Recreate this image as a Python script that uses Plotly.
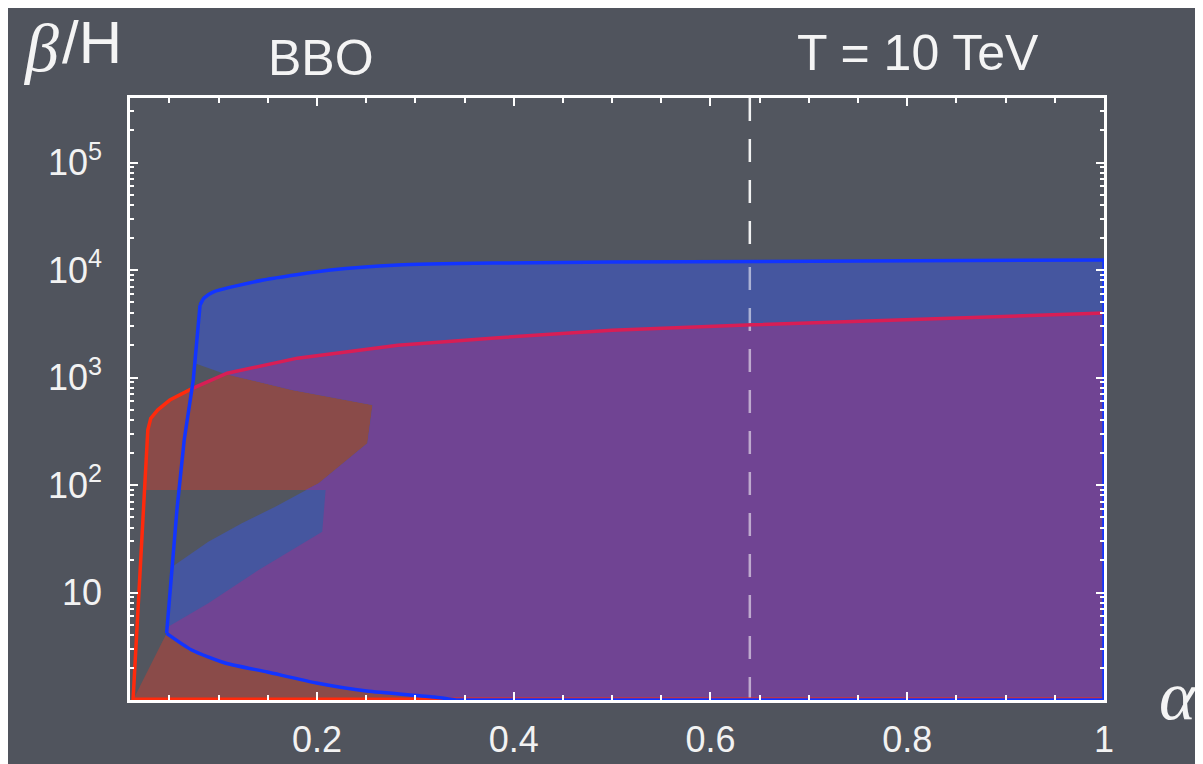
import numpy as np
import plotly.graph_objects as go

# ---------------- data (alpha, beta/H) ----------------
# red sensitivity curve (bottom -> right end)
RED_A = [0.0131, 0.0184, 0.0236, 0.0260, 0.0281, 0.0311, 0.0383, 0.0505, 0.0689,
         0.1087, 0.1802, 0.2823, 0.3844, 0.4998, 0.6426, 1.0]
RED_B = [1.0, 8.5, 58.5, 170, 324, 417, 501, 617, 759,
         1096, 1514, 1995, 2344, 2754, 3090, 3981]

# blue curve: upper branch (top-left corner -> right end)
BLUE_TOP_A = [0.0812, 0.0853, 0.0944, 0.1455, 0.2139, 0.2823, 0.3844, 0.4998, 1.0]
BLUE_TOP_B = [4721, 5495, 6237, 8072, 10000, 11143, 11614, 11858, 12388]
# blue curve: steep left branch (corner -> lower vertex)
BLUE_LEFT_A = [0.0812, 0.0743, 0.0651, 0.0577, 0.0526, 0.0472]
BLUE_LEFT_B = [4721, 948, 262, 58.5, 16.2, 4.17]
# blue curve: lower branch (vertex -> bottom)
BLUE_LOW_A = [0.0472, 0.0727, 0.1067, 0.1496, 0.1996, 0.2506, 0.319, 0.3415]
BLUE_LOW_B = [4.17, 2.92, 2.21, 1.82, 1.44, 1.21, 1.067, 1.0]

# hole of the red region (lower-left pocket)
STRIP_LOW_A = [0.0472, 0.0488, 0.0896, 0.1407, 0.2054]
STRIP_LOW_B = [4.17, 4.81, 7.94, 16.2, 36.8]
POCKET_TOP_A = [0.2088]
POCKET_TOP_B = [89.7]
# hole of the blue region
STRIP_UP_A = [0.0529, 0.0896, 0.1237, 0.1577, 0.1883]
STRIP_UP_B = [17.4, 29.7, 44.1, 62.8, 89.7]
HOLE_RIGHT_A = [0.1883, 0.2019, 0.2513, 0.2565]
HOLE_RIGHT_B = [89.7, 103.8, 244, 555]
HOLE_TOP_A = [0.2565, 0.1748, 0.1067, 0.0758]
HOLE_TOP_B = [555, 766, 1079, 1355]

ALPHA_MARK = 0.64
X_RANGE = [0.01, 1.0]
Y_RANGE_LOG = [0.0, 5.6]
Y_TICKS = [10, 100, 1e3, 1e4, 1e5]
Y_TICKTEXT = ["10", "10<sup>2</sup>", "10<sup>3</sup>", "10<sup>4</sup>", "10<sup>5</sup>"]
X_TICKS = [0.2, 0.4, 0.6, 0.8, 1.0]
X_TICKTEXT = ["0.2", "0.4", "0.6", "0.8", "1"]

# ---------------- geometry helpers (work in alpha, log10 space) -------------
def pts(a, b):
    return [(float(x), float(np.log10(y))) for x, y in zip(a, b)]

red = pts(RED_A, RED_B)
btop = pts(BLUE_TOP_A, BLUE_TOP_B)
bleft = pts(BLUE_LEFT_A, BLUE_LEFT_B)
blow = pts(BLUE_LOW_A, BLUE_LOW_B)
slow = pts(STRIP_LOW_A, STRIP_LOW_B)
ptop = pts(POCKET_TOP_A, POCKET_TOP_B)
sup = pts(STRIP_UP_A, STRIP_UP_B)
hright = pts(HOLE_RIGHT_A, HOLE_RIGHT_B)
htop = pts(HOLE_TOP_A, HOLE_TOP_B)


def intersect(P, Q):
    for i in range(len(P) - 1):
        p = np.array(P[i]); r = np.array(P[i + 1]) - p
        for j in range(len(Q) - 1):
            q = np.array(Q[j]); s = np.array(Q[j + 1]) - q
            den = r[0] * s[1] - r[1] * s[0]
            if abs(den) < 1e-14:
                continue
            t = ((q[0] - p[0]) * s[1] - (q[1] - p[1]) * s[0]) / den
            u = ((q[0] - p[0]) * r[1] - (q[1] - p[1]) * r[0]) / den
            if 0 <= t <= 1 and 0 <= u <= 1:
                v = p + t * r
                return (float(v[0]), float(v[1])), i, j
    return None


X1, ix1, _ = intersect(red, bleft)       # red curve meets blue left branch
Y1, iy1, jy1 = intersect(red, htop)      # red curve meets top of blue hole

L_pocket = ptop[0][1]
red_L = [p[1] for p in red]
red_A = [p[0] for p in red]
a_red_pocket = float(np.interp(L_pocket, red_L, red_A))
bottom = Y_RANGE_LOG[0]

# red region (minus its pocket)
red_poly = [red[0]] + slow + ptop + [(a_red_pocket, L_pocket)] \
    + [p for p in red if p[1] > L_pocket] + [(red[-1][0], bottom)]
# blue region (minus its hole)
blue_poly = btop + [(btop[-1][0], bottom)] + blow[::-1] \
    + [p for p in bleft[::-1] if sup[0][1] > p[1] > blow[0][1]] \
    + sup + hright[1:] + htop[1:] \
    + [p for p in bleft[::-1] if p[1] > htop[-1][1]]
# overlap of both
purple_poly = [Y1] + red[iy1 + 1:] + [(red[-1][0], bottom)] + blow[::-1] \
    + slow[1:] + ptop + hright + htop[1:jy1 + 1] + [Y1]


def xy(poly, close=True):
    a = [p[0] for p in poly]
    b = [10 ** p[1] for p in poly]
    if close:
        a.append(poly[0][0]); b.append(10 ** poly[0][1])
    return a, b


BG = "#50545d"
PLOT_BG = "#52565f"
C_BROWN = "#8a4b49"
C_BLUE = "#45569f"
C_PURPLE = "#704493"
L_BLUE = "#1234ff"
L_RED = "#ff2a0c"
L_CRIMSON = "#d81e55"

fig = go.Figure()
for poly, col in [(red_poly, C_BROWN), (blue_poly, C_BLUE), (purple_poly, C_PURPLE)]:
    a, b = xy(poly)
    fig.add_trace(go.Scatter(x=a, y=b, mode="lines", fill="toself", fillcolor=col,
                             line=dict(width=0), hoverinfo="skip", showlegend=False))

# dashed reference line
top_at_mark = 10 ** float(np.interp(ALPHA_MARK, [p[0] for p in btop], [p[1] for p in btop]))
fig.add_trace(go.Scatter(x=[ALPHA_MARK, ALPHA_MARK], y=[10 ** bottom, top_at_mark], mode="lines",
                         line=dict(color="rgba(255,255,255,0.55)", width=2.5, dash="23px,18px"),
                         hoverinfo="skip", showlegend=False))
fig.add_trace(go.Scatter(x=[ALPHA_MARK, ALPHA_MARK], y=[10 ** Y_RANGE_LOG[1], top_at_mark], mode="lines",
                         line=dict(color="rgba(255,255,255,0.92)", width=2.5, dash="23px,18px"),
                         hoverinfo="skip", showlegend=False))


def line(poly, color, width, shape="linear"):
    a, b = xy(poly, close=False)
    fig.add_trace(go.Scatter(x=a, y=b, mode="lines",
                             line=dict(color=color, width=width, shape=shape, smoothing=0.6),
                             hoverinfo="skip", showlegend=False))


# red outline
line(red[:ix1 + 1] + [X1], L_RED, 3.5)
line([X1] + red[ix1 + 1:], L_CRIMSON, 3.5)
line([red[0], (red[-1][0], bottom)], L_RED, 5)

# blue outline
line(btop, L_BLUE, 3.5, "spline")
line([btop[-1], (btop[-1][0], bottom), blow[-1]], L_BLUE, 3.5)
line(blow, L_BLUE, 3.5, "spline")
line(bleft, L_BLUE, 3.5)

axis_common = dict(showline=True, linecolor="white", linewidth=2.5, mirror="ticks",
                   ticks="inside", tickcolor="white", tickwidth=2, showgrid=False,
                   zeroline=False, automargin=False,
                   tickfont=dict(family="Liberation Sans, Arial, sans-serif",
                                 size=36, color="#f2f2f2"))

fig.update_xaxes(range=X_RANGE, tickmode="array", tickvals=X_TICKS, ticktext=X_TICKTEXT,
                 ticklen=8, ticklabelstandoff=6,
                 minor=dict(ticks="inside", dtick=0.05, tick0=0, ticklen=5,
                            tickcolor="white", tickwidth=1.5, showgrid=False),
                 **axis_common)
fig.update_yaxes(type="log", range=Y_RANGE_LOG, tickmode="array", tickvals=Y_TICKS,
                 ticktext=Y_TICKTEXT, ticklen=8, ticklabelstandoff=18,
                 minor=dict(ticks="inside", dtick="D1", ticklen=4,
                            tickcolor="white", tickwidth=1.5, showgrid=False),
                 **axis_common)

# page is offset by the browser's default 8px body margin
OFF = 8
W, H = 1203 - OFF, 764 - OFF
PL, PR, PT, PB = 130, 1104, 98, 700          # plot area in page pixels
L_M, T_M = PL - OFF, PT - OFF
R_M, B_M = W - (PR - OFF), H - (PB - OFF)
pw, ph = PR - PL, PB - PT


def px(x):
    return (x - PL) / pw


def py(y):
    return (PB - y) / ph


ann = [
    dict(text="<i>β</i>", x=px(41), y=py(48), size=68, family="Liberation Serif, DejaVu Serif, serif"),
    dict(text="/H", x=px(92), y=py(43), size=60, family="Liberation Sans, Arial, sans-serif"),
    dict(text="BBO", x=px(321), y=py(58), size=50, family="Liberation Sans, Arial, sans-serif"),
    dict(text="T = 10 TeV", x=px(918), y=py(53), size=50, family="Liberation Sans, Arial, sans-serif"),
    dict(text="<i>α</i>", x=px(1178), y=py(695), size=70, family="Liberation Serif, DejaVu Serif, serif"),
]
annotations = [dict(text=a["text"], x=a["x"], y=a["y"], xref="paper", yref="paper",
                    xanchor="center", yanchor="middle", showarrow=False,
                    font=dict(size=a["size"], family=a["family"], color="#f4f4f4"))
               for a in ann]

fig.update_layout(width=W, height=H, autosize=False,
                  margin=dict(l=L_M, r=R_M, t=T_M, b=B_M, pad=0),
                  paper_bgcolor=BG, plot_bgcolor=PLOT_BG,
                  annotations=annotations, showlegend=False)

fig.write_html("out.html")
